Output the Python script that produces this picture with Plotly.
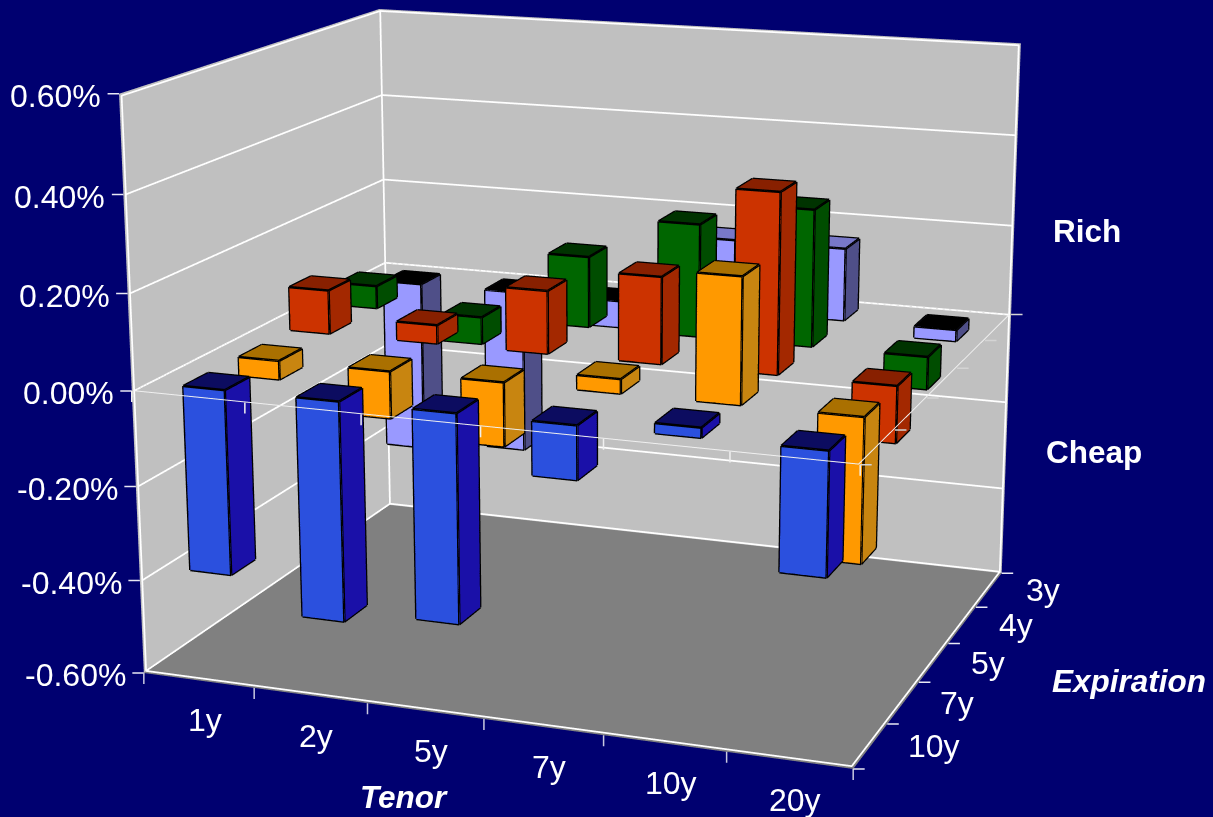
import plotly.graph_objects as go

# Spread richness by swaption tenor and expiration
tenors = ["1y", "2y", "5y", "7y", "10y", "20y"]
expirations = ["10y", "7y", "5y", "4y", "3y"]
z_ticks = [-0.6, -0.4, -0.2, 0.0, 0.2, 0.4, 0.6]

exp_10y = [-0.39, -0.46, -0.435, -0.11, 0.02, -0.25]
exp_7y = [-0.04, -0.10, -0.135, 0.03, 0.26, -0.30]
exp_5y = [0.095, 0.04, 0.135, 0.185, 0.38, -0.12]
exp_4y = [0.05, -0.06, 0.155, 0.245, 0.295, -0.07]
exp_3y = [-0.39, -0.37, -0.06, 0.16, 0.16, -0.025]
series = [exp_10y, exp_7y, exp_5y, exp_4y, exp_3y]

# front, side, top, top-when-negative
palette = [
    ("#2B50DE", "#1A10A8", "#0C0C60", "#0C0C60"),
    ("#FF9900", "#C88510", "#AA7000", "#AA7000"),
    ("#CC3300", "#A32800", "#882000", "#882000"),
    ("#006600", "#004D00", "#003300", "#003300"),
    ("#9999FF", "#4F4F88", "#7878C8", "#000000"),
]

BG = "#000070"
WALL = "#C0C0C0"
FLOOR = "#808080"
FONT = "Liberation Sans"
TICK_SIZE = 32
TITLE_SIZE = 31.5
BAR_W = 0.37
BAR_D = 0.44
X0, X1 = -0.5, len(tenors) - 0.5
Y0, Y1 = -0.5, len(expirations) - 0.5
ZB, ZT = z_ticks[0], z_ticks[-1]
# small inset that keeps frame lines clear of the wall planes
EX, EY, EZ = 0.015, 0.012, 0.004

fig = go.Figure()


def bar_mesh(row, values, colors):
    xs, ys, zs, i, j, k, fc = [], [], [], [], [], [], []
    ex, ey, ez = [], [], []
    front, side, top, top_neg = colors
    for col, v in enumerate(values):
        x = (col - BAR_W / 2, col + BAR_W / 2)
        y = (row - BAR_D / 2, row + BAR_D / 2)
        z = (min(v, 0), max(v, 0))
        b = len(xs)
        for zz in z:
            for yy, xx in ((y[0], x[0]), (y[0], x[1]), (y[1], x[1]), (y[1], x[0])):
                xs.append(xx); ys.append(yy); zs.append(zz)
        quads = [
            ((0, 1, 5, 4), front), ((1, 2, 6, 5), side), ((4, 5, 6, 7), top_neg if v < 0 else top),
            ((2, 3, 7, 6), side), ((3, 0, 4, 7), side), ((0, 1, 2, 3), side),
        ]
        for q, c in quads:
            i += [b + q[0], b + q[0]]
            j += [b + q[1], b + q[2]]
            k += [b + q[2], b + q[3]]
            fc += [c, c]
        for a, c in ((0, 1), (1, 2), (2, 3), (3, 0), (4, 5), (5, 6), (6, 7), (7, 4), (0, 4), (1, 5), (2, 6), (3, 7)):
            ex += [xs[b + a], xs[b + c], None]
            ey += [ys[b + a], ys[b + c], None]
            ez += [zs[b + a], zs[b + c], None]
    fig.add_trace(go.Mesh3d(
        x=xs, y=ys, z=zs, i=i, j=j, k=k, facecolor=fc, flatshading=True, hoverinfo="skip",
        lighting=dict(ambient=1, diffuse=0, specular=0, fresnel=0, roughness=1),
    ))
    fig.add_trace(go.Scatter3d(
        x=ex, y=ey, z=ez, mode="lines", line=dict(color="black", width=5), hoverinfo="skip",
    ))


for row, (values, colors) in enumerate(zip(series, palette)):
    bar_mesh(row, values, colors)


def lines(segments, color="white", width=2, dash=None):
    xs, ys, zs = [], [], []
    for seg in segments:
        for p in seg:
            xs.append(p[0]); ys.append(p[1]); zs.append(p[2])
        xs.append(None); ys.append(None); zs.append(None)
    fig.add_trace(go.Scatter3d(
        x=xs, y=ys, z=zs, mode="lines", hoverinfo="skip",
        line=dict(color=color, width=width, dash=dash),
    ))


XL, XR = X0 + EX, X1 - EX
YF, YB = Y0 + EY, Y1 - EY
ZL, ZU = ZB + EZ, ZT - EZ

# Outline of the walls and floor
lines([
    [(XL, YF, ZL), (XL, YF, ZU), (XL, YB, ZU), (XR, YB, ZU), (XR, YB, ZL), (XR, YF, ZL), (XL, YF, ZL), (XL, YB, ZL), (XR, YB, ZL)],
    [(XL, YB, ZL), (XL, YB, ZU)],
], width=3.5)
# Horizontal grid on both walls
lines([[(XL, YF, t), (XL, YB, t), (XR, YB, t)] for t in z_ticks[1:-1]], width=3.5)

# Category plane at zero
lines([[(XL, YF, 0), (XR, YF, 0), (XR, YB, 0)]], color="#F0F0F0", width=2)
lines([[(XL, YF, 0), (XL, YB, 0), (XR, YB, 0)]], color="#E4E4E4", width=2, dash="dot")

tick_font = dict(family=FONT, size=TICK_SIZE, color="white")
title_font = dict(family=FONT, size=TITLE_SIZE, color="white")
annotations = []


def tick_mark(x, y, z, ax, ay, color="white"):
    annotations.append(dict(x=x, y=y, z=z, text=" ", showarrow=True, arrowhead=0, arrowwidth=1.5,
                            arrowcolor=color, standoff=0, ax=ax, ay=ay, borderpad=0,
                            font=dict(size=1)))


for val in z_ticks:
    annotations.append(dict(x=X0, y=Y0, z=val, text=f"{val:.2f}%", showarrow=False,
                            xanchor="right", yanchor="middle", xshift=-16, yshift=-2, font=tick_font))
    tick_mark(X0, Y0, val, -12, 0, "#E8E8F4")
for c, name in enumerate(tenors):
    annotations.append(dict(x=c, y=Y0, z=ZB, text=name, showarrow=False,
                            xanchor="center", yanchor="middle", yshift=-40, xshift=6, font=tick_font))
for c in range(len(tenors) + 1):
    tick_mark(c - 0.5, Y0, ZB, 0, 12, "#C8C8E0")
    tick_mark(c - 0.5, Y0, 0, 0, 12, "#F0F0F0")
for r, name in enumerate(expirations):
    annotations.append(dict(x=X1, y=r, z=ZB, text=name, showarrow=False,
                            xanchor="left", yanchor="middle", xshift=35, font=tick_font))
for r in range(len(expirations) + 1):
    tick_mark(X1, r - 0.5, ZB, 12, 0, "#E8E8F4")
    tick_mark(X1, r - 0.5, 0, 12, 0, "#D4D4D4")


def axis(low, high, backdrop):
    return dict(range=[low, high], showticklabels=False, title=dict(text=""), showspikes=False,
                zeroline=False, showline=False, showgrid=False, ticks="",
                showbackground=True, backgroundcolor=backdrop)


PX, PY = 1213, 817


def page_label(text, px, py):
    return dict(xref="paper", yref="paper", x=px / PX, y=1 - py / PY, text=text, showarrow=False,
                xanchor="center", yanchor="middle", font=title_font)


fig.update_layout(
    width=PX, height=PY, margin=dict(l=0, r=0, t=0, b=0), paper_bgcolor=BG, showlegend=False,
    scene=dict(
        domain=dict(x=[0, 1], y=[0, 1]), bgcolor=BG,
        aspectmode="manual", aspectratio=dict(x=0.852, y=0.698, z=0.678),
        camera=dict(eye=dict(x=1.231, y=-3.317, z=0.911), center=dict(x=0.028, y=-0.028, z=-0.061),
                    up=dict(x=-0.002, y=0.009, z=1)),
        xaxis=axis(X0, X1, WALL),
        yaxis=axis(Y0, Y1, WALL),
        zaxis=axis(ZB, ZT, FLOOR),
        annotations=annotations,
    ),
    annotations=[
        page_label("<b>Rich</b>", 1087, 231),
        page_label("<b>Cheap</b>", 1094, 452),
        page_label("<b><i>Tenor</i></b>", 404, 797),
        page_label("<b><i>Expiration</i></b>", 1129, 681),
    ],
)

# Narrow the lens of the 3D scene once it exists
LENS = """
var gd = document.getElementById('{plot_id}');
var scene = gd._fullLayout.scene._scene;
scene.glplot.fovy = 0.264;
scene.glplot.redraw();
"""

fig.write_html("out.html", config={"displayModeBar": False}, post_script=LENS)
